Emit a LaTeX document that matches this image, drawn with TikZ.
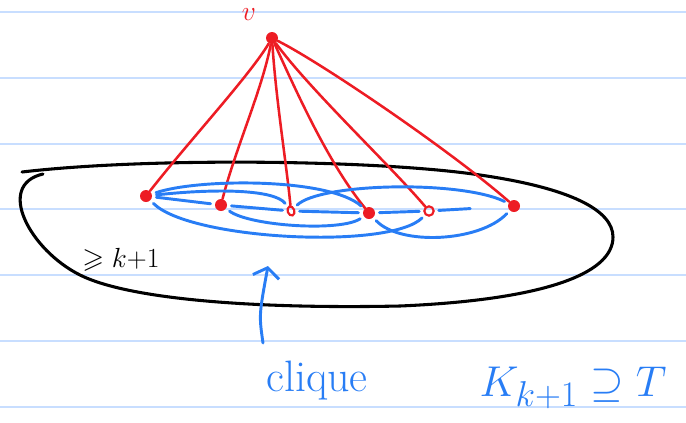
\documentclass[tikz,border=0pt]{standalone}
\usepackage{amssymb}
\usetikzlibrary{arrows.meta,shapes.geometric}
\definecolor{inkred}{RGB}{237,28,36}
\definecolor{inkblue}{RGB}{40,125,245}
\definecolor{ruleblue}{RGB}{200,222,255}
\tikzset{every picture/.style={line width=0.75pt}}
\tikzset{
  redge/.style={draw=inkred, line width=1.9pt, line cap=round},
  bedge/.style={draw=inkblue, line width=2.2pt, line cap=round, shorten <=3pt, shorten >=3pt},
  dotnode/.style={circle, fill=inkred, inner sep=0pt, minimum size=9pt},
  hollownode/.style={ellipse, draw=inkred, line width=1.6pt, inner sep=0pt, minimum width=5pt, minimum height=7pt},
  ruleline/.style={draw=ruleblue, line width=1.5pt}
}

\begin{document}
\begin{tikzpicture}[x=0.75pt,y=0.75pt,yscale=-1,xscale=1]
\useasboundingbox (0,0) rectangle (686,422);

%Ruled lines
\foreach \ry in {12,78,144,209,275,341,407}
  \draw[ruleline] (0,\ry) -- (686,\ry);

%Blob
\draw [line width=2.3pt, line cap=round] (22,172) .. controls (150,157) and (380,160) .. (480,175) .. controls (570,188) and (613,210) .. (613,237) .. controls (613,275) and (540,300) .. (400,306) .. controls (260,309) and (130,300) .. (80,275) .. controls (30,250) and (-5,185) .. (43,174) ;

%Vertices
\node [dotnode] (v) at (272,38) {};
\node [text=inkred, font=\fontsize{22}{24}\selectfont] (vlabel) at (249,15) {$v$};
\node [dotnode] (u1) at (146,196) {};
\node [dotnode] (u2) at (221,205) {};
\node [hollownode, rotate=20] (u3) at (291,211) {};
\node [dotnode] (u4) at (369,213) {};
\node [hollownode, minimum width=7pt] (u5) at (429,211) {};
\node [dotnode] (u6) at (514,206) {};

%Red edges
\draw [redge] (v) .. controls (250,75) and (190,140) .. (u1) ;
\draw [redge] (v) .. controls (262,90) and (235,150) .. (u2) ;
\draw [redge] (v) .. controls (276,100) and (286,160) .. (u3) ;
\draw [redge] (v) .. controls (300,100) and (330,165) .. (u4) ;
\draw [redge] (v) .. controls (310,90) and (390,165) .. (u5) ;
\draw [redge] (v) .. controls (320,62) and (450,150) .. (u6) ;

%Clique edges
\draw [bedge] (u1) .. controls (200,178) and (330,178) .. (u4) ;
\draw [bedge] (u1) .. controls (220,188) and (275,190) .. (u3) ;
\draw [bedge] (u1) -- (u2) ;
\draw [bedge] (u1) .. controls (190,240) and (390,250) .. (u5) ;
\draw [bedge] (u3) .. controls (320,183) and (460,180) .. (u6) ;
\draw [bedge] (u2) .. controls (250,226) and (340,232) .. (u4) ;
\draw [bedge] (u2) -- (u3) ;
\draw [bedge] (u3) -- (u4) ;
\draw [bedge] (u4) -- (u5) ;
\draw [bedge, shorten >=28pt] (u5) -- (u6) ;
\draw [bedge] (u6) .. controls (480,242) and (400,246) .. (u4) ;

%Labels
\node [font=\fontsize{21}{23}\selectfont] (size) at (121,260) {$\geqslant k{+}1$};
\node [text=inkblue, font=\fontsize{33}{35}\selectfont] (clique) at (317,381) {clique};
\node [text=inkblue, font=\fontsize{24.88}{27}\selectfont, scale=1.3] (contain) at (573,388) {$K_{k+1}\supseteq T$};

%Arrow
\coordinate (tail) at (263,343);
\coordinate (tip) at (268,266);
\draw [draw=inkblue, line width=2.2pt, line cap=round, -{Straight Barb[length=7pt,width=20pt]}] (tail) .. controls (259,315) .. (tip) ;

\end{tikzpicture}
\end{document}
